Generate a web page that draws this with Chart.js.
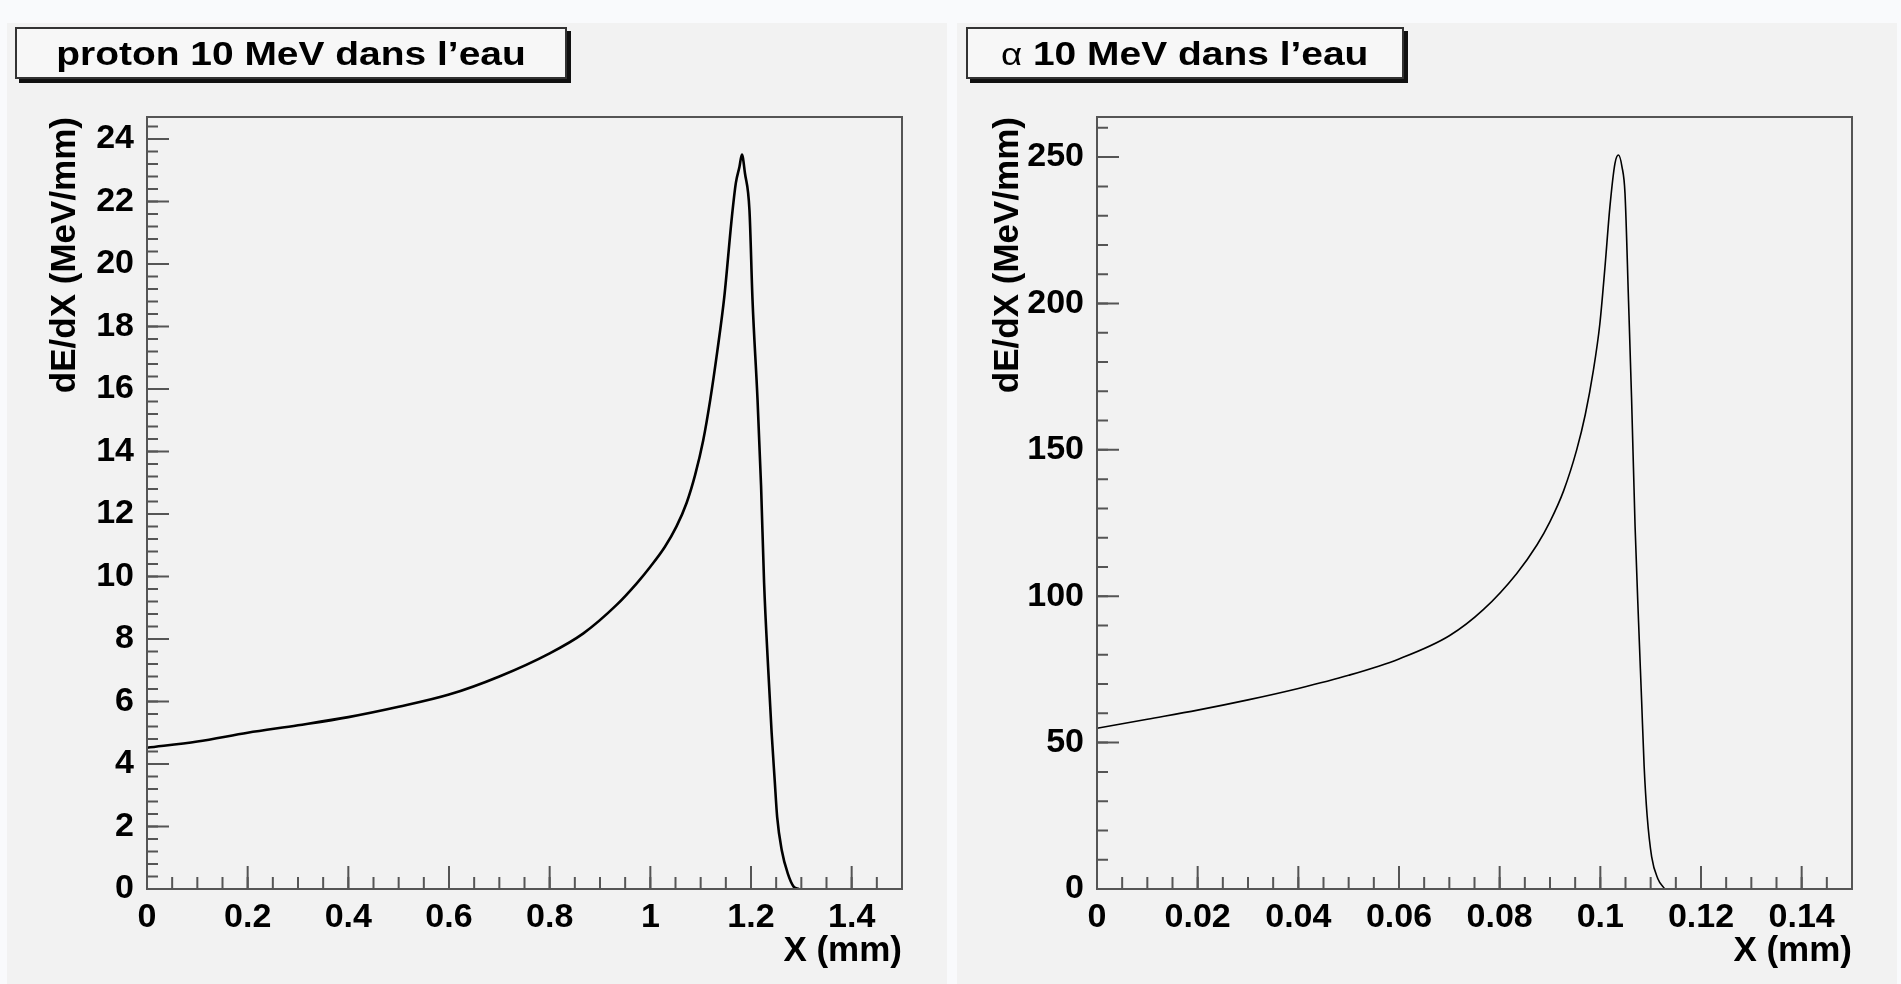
<!DOCTYPE html>
<html>
<head>
<meta charset="utf-8">
<script src="https://cdn.jsdelivr.net/npm/chart.js@4.4.1/dist/chart.umd.min.js"></script>
<style>
  html, body { margin: 0; padding: 0; }
  body { width: 1901px; height: 984px; overflow: hidden; background: #f9fafc; position: relative;
         font-family: "Liberation Sans", Arial, sans-serif; }
  .panel { position: absolute; top: 23px; width: 940px; height: 961px; background: #f2f2f2; }
  .panel canvas { position: absolute; left: 0; top: 0; }
  .titre { position: absolute; top: 27px; height: 48px; background: #f7f7f7; border: 2px solid #333;
           box-shadow: 4px 4px 0 #111; font-weight: bold; font-size: 33px; line-height: 50px;
           text-align: center; color: #000; white-space: nowrap; }
  .titre span.txt { display: inline-block; transform: scaleX(1.18); }
  .alpha { font-weight: normal; font-size: 31px; }
</style>
</head>
<body>
<div class="panel" style="left:7px"><canvas id="protonChart" width="940" height="961"></canvas></div>
<div class="panel" style="left:957px"><canvas id="alphaChart" width="940" height="961"></canvas></div>
<div class="titre" style="left:15px; width:548px"><span class="txt">proton 10 MeV dans l’eau</span></div>
<div class="titre" style="left:966px; width:434px"><span class="txt"><span class="alpha">α</span> 10 MeV dans l’eau</span></div>

<script>
// Courbe de Bragg - proton 10 MeV dans l'eau
const protonX = [0, 0.1, 0.2, 0.3, 0.4, 0.5, 0.6, 0.7, 0.8, 0.867, 0.933, 0.973, 1.0, 1.029, 1.052,
                 1.072, 1.089, 1.105, 1.119, 1.133, 1.147, 1.162, 1.170, 1.177, 1.182, 1.188, 1.197,
                 1.203, 1.213, 1.220, 1.226, 1.234, 1.241, 1.247, 1.252, 1.261, 1.273, 1.285, 1.295];
const protonY = [4.52, 4.72, 5.0, 5.24, 5.5, 5.83, 6.22, 6.8, 7.54, 8.18, 9.09, 9.78, 10.31, 10.95, 11.6,
                 12.35, 13.25, 14.35, 15.65, 17.2, 18.95, 21.5, 22.6, 23.1, 23.5, 22.9, 21.7,
                 18.85, 15.65, 12.9, 9.8, 7.1, 5.0, 3.5, 2.3, 1.25, 0.5, 0.07, 0];
const protonXTicks = [0, 0.2, 0.4, 0.6, 0.8, 1, 1.2, 1.4];
const protonYTicks = [0, 2, 4, 6, 8, 10, 12, 14, 16, 18, 20, 22, 24];

// Courbe de Bragg - alpha 10 MeV dans l'eau
const alphaX = [0, 0.01, 0.02, 0.03, 0.04, 0.05, 0.06, 0.07, 0.0768, 0.0834, 0.0874, 0.09, 0.0927,
                0.0953, 0.097, 0.0986, 0.0999, 0.1009, 0.1019, 0.1029, 0.1036, 0.1043, 0.1049, 0.1056,
                0.1062, 0.1069, 0.1076, 0.1082, 0.1087, 0.1093, 0.1102, 0.1114, 0.1128];
const alphaY = [54.9, 58, 61.1, 64.6, 68.5, 73, 78.6, 86.5, 95.5, 107.8, 117.5, 125.5, 136,
                150, 162, 177, 193, 212, 233, 247.8, 250.7, 246.7, 237.6, 201,
                168, 124, 91, 64.5, 42, 25, 11, 3.6, 0];
const alphaXTicks = [0, 0.02, 0.04, 0.06, 0.08, 0.1, 0.12, 0.14];
const alphaYTicks = [0, 50, 100, 150, 200, 250];

const couleurCadre = '#555';

// Cadre + graduations vers l'intérieur (style ROOT)
const cadrePlugin = {
    id: 'cadre',
    afterDatasetsDraw(chart, args, opts) {
        const { ctx, chartArea: a, scales } = chart;
        ctx.save();
        ctx.strokeStyle = couleurCadre;
        ctx.lineWidth = 2;
        ctx.strokeRect(a.left, a.top, a.right - a.left, a.bottom - a.top);

        const tick = (axis, step, len) => {
            const sc = scales[axis];
            const n = Math.floor(sc.max / step + 1e-6);
            ctx.beginPath();
            for (let i = 0; i <= n; i++) {
                const p = sc.getPixelForValue(i * step);
                if (axis === 'x') { ctx.moveTo(p, a.bottom); ctx.lineTo(p, a.bottom - len); }
                else { ctx.moveTo(a.left, p); ctx.lineTo(a.left + len, p); }
            }
            ctx.stroke();
        };
        tick('x', opts.xMinor, 12);
        tick('x', opts.xMajor, 23);
        tick('y', opts.yMinor, 11);
        tick('y', opts.yMajor, 22);
        ctx.restore();
    }
};

function creerGraphique(id, xs, ys, xTicks, yTicks, xMax, yMax, minors, largeur, gauche) {
    const ctx = document.getElementById(id).getContext('2d');
    const police = { family: 'Liberation Sans', weight: 'bold', size: 34 };
    return new Chart(ctx, {
        type: 'line',
        data: {
            datasets: [{
                data: xs.map((x, i) => ({ x: x, y: ys[i] })),
                borderColor: '#000',
                borderWidth: largeur,
                pointRadius: 0,
                cubicInterpolationMode: 'monotone',
                fill: false
            }]
        },
        options: {
            responsive: false,
            animation: false,
            layout: { padding: { left: gauche, right: 45, top: 94, bottom: 12 } },
            plugins: {
                legend: { display: false },
                tooltip: { enabled: false },
                cadre: minors
            },
            scales: {
                x: {
                    type: 'linear',
                    min: 0,
                    max: xMax,
                    afterBuildTicks: s => { s.ticks = xTicks.map(v => ({ value: v })); },
                    afterFit: s => { s.height = 83; },
                    grid: { display: false },
                    border: { display: false },
                    ticks: { autoSkip: false, maxRotation: 0, padding: 0, color: '#000', font: police,
                             callback: v => String(v) },
                    title: { display: true, text: 'X (mm)', align: 'end', color: '#000',
                             font: { family: 'Liberation Sans', weight: 'bold', size: 35 },
                             padding: { top: 0, bottom: 0 } }
                },
                y: {
                    type: 'linear',
                    min: 0,
                    max: yMax,
                    afterBuildTicks: s => { s.ticks = yTicks.map(v => ({ value: v })); },
                    afterFit: s => { s.width = 140 - gauche; },
                    grid: { display: false },
                    border: { display: false },
                    ticks: { autoSkip: false, padding: 5, color: '#000', font: police,
                             callback: v => String(v) },
                    title: { display: true, text: 'dE/dX (MeV/mm)', align: 'end', color: '#000',
                             font: { family: 'Liberation Sans', weight: 'bold', size: 35 },
                             padding: { top: 4, bottom: 4 } }
                }
            }
        },
        plugins: [cadrePlugin]
    });
}

creerGraphique('protonChart', protonX, protonY, protonXTicks, protonYTicks, 1.5, 24.7,
               { xMajor: 0.2, xMinor: 0.05, yMajor: 2, yMinor: 0.4 }, 2.6, 33);
creerGraphique('alphaChart', alphaX, alphaY, alphaXTicks, alphaYTicks, 0.15, 263.7,
               { xMajor: 0.02, xMinor: 0.005, yMajor: 50, yMinor: 10 }, 1.6, 26);
</script>
</body>
</html>
